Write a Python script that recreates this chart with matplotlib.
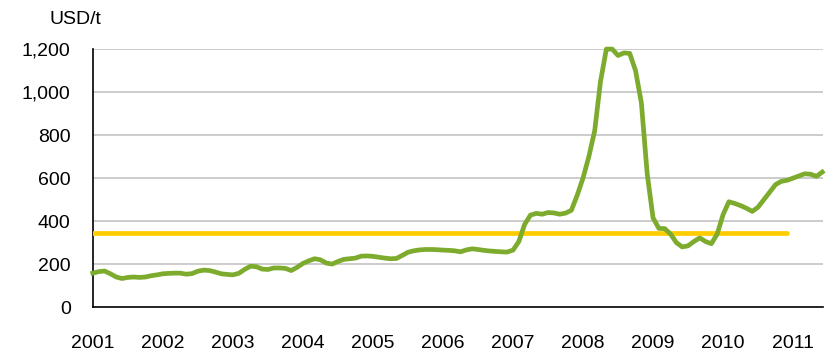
import numpy as np
import matplotlib
matplotlib.use("Agg")
import matplotlib.pyplot as plt
from matplotlib.ticker import FuncFormatter

plt.rcParams['font.family'] = ['Liberation Sans', 'DejaVu Sans']

# monthly price, Jan 2001 .. Jun 2011 (USD/t)
price = [158, 165, 168, 155, 140, 133, 138, 140, 138, 140, 146, 150,
         155, 157, 158, 158, 153, 156, 167, 172, 170, 163, 155, 152,
         150, 157, 175, 190, 188, 177, 175, 182, 182, 180, 170, 185,
         203, 215, 225, 220, 205, 200, 212, 222, 225, 228, 237, 238,
         236, 232, 228, 225, 226, 240, 255, 262, 266, 268, 268, 267,
         265, 264, 262, 257, 266, 271, 268, 264, 261, 259, 257, 256,
         265, 305, 385, 428, 436, 432, 440, 438, 432, 437, 450, 520,
         600, 700, 820, 1050, 1200, 1200, 1170, 1182, 1180, 1100, 950, 620,
         415, 366, 365, 340, 300, 280, 285, 305, 322, 305, 295, 340,
         430, 490, 482, 472, 460, 445, 465, 500, 535, 570, 585, 590,
         600, 610, 620, 618, 608, 628]
avg_price = 345
avg_months = 120
years = list(range(2001, 2012))

t = 2001 + np.arange(len(price)) / 12.0

fig = plt.figure(figsize=(8.29, 3.53), dpi=100)
ax = fig.add_axes([0.112, 0.130, 0.881, 0.731])

ax.plot(t[:avg_months], [avg_price] * avg_months, color='#ffcc00', lw=3.4,
        solid_capstyle='round', zorder=3)
ax.plot(t, price, color='#7dab2e', lw=3.4, solid_joinstyle='round',
        clip_on=False, zorder=4)

ax.set_xlim(2001, 2011.43)
ax.set_ylim(0, 1200)
ax.set_yticks(range(0, 1201, 200))
ax.yaxis.set_major_formatter(FuncFormatter(lambda v, p: '{:,.0f}'.format(v)))
ax.set_xticks(years)
ax.set_xticklabels([str(y) for y in years])

for v in range(200, 1201, 200):
    ax.axhline(v, color='#c3c3c3', lw=1.2, zorder=1)

ax.spines['top'].set_visible(False)
ax.spines['right'].set_visible(False)
ax.spines['left'].set_linewidth(1.2)
ax.spines['bottom'].set_linewidth(1.2)
ax.tick_params(axis='both', length=0, labelsize=14, colors='black')
ax.tick_params(axis='y', pad=16)
ax.tick_params(axis='x', pad=20)

fig.text(0.060, 0.968, 'USD/t', fontsize=14, va='top', ha='left')

fig.savefig('out.png', dpi=100)
